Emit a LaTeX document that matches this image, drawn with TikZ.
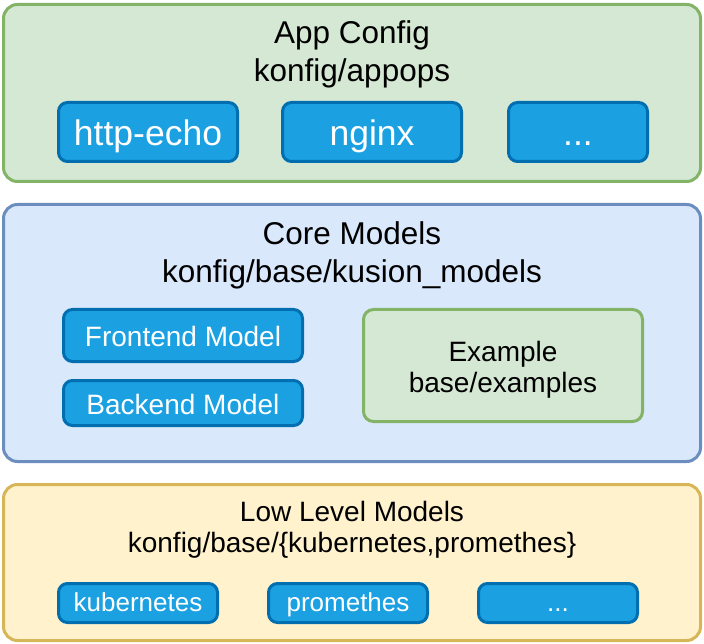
\documentclass[tikz,border=0pt]{standalone}
\usepackage{fontspec}
\setmainfont{Liberation Sans}
\definecolor{appfill}{HTML}{D5E8D4}
\definecolor{appline}{HTML}{82B366}
\definecolor{corefill}{HTML}{DAE8FC}
\definecolor{coreline}{HTML}{6C8EBF}
\definecolor{lowfill}{HTML}{FFF2CC}
\definecolor{lowline}{HTML}{D6B656}
\definecolor{itemfill}{HTML}{1BA1E2}
\definecolor{itemline}{HTML}{006EAF}

\begin{document}
\begin{tikzpicture}[x=1pt, y=-1pt,
  layer/.style={draw, line width=3pt, rounded corners=14pt, inner sep=0pt, minimum width=697pt},
  title/.style={align=center, inner sep=0pt},
  item/.style={draw=itemline, fill=itemfill, line width=3pt, rounded corners=9pt, inner sep=0pt, text=white, text depth=0pt},
  topitem/.style={item, font=\fontsize{35.5}{42}\selectfont, minimum width=179pt, minimum height=59pt, text height=27pt},
  model/.style={item, font=\fontsize{28}{33}\selectfont, minimum width=239pt, text height=22pt},
  lowitem/.style={item, font=\fontsize{26}{31}\selectfont, minimum width=159pt, minimum height=39pt, text height=17.5pt}]

\useasboundingbox (0,0) rectangle (704,644);

\node[layer, draw=appline, fill=appfill, minimum height=177pt] (app) at (352,93) {};
\node[layer, draw=coreline, fill=corefill, minimum height=257pt] (core) at (352,333) {};
\node[layer, draw=lowline, fill=lowfill, minimum height=156pt] (low) at (352,562.5) {};

% app config
\node[title, font=\fontsize{31.5}{37.5}\selectfont] (apptitle) at (352,54.5) {App Config\\konfig/appops};
\node[topitem] (echo) at (148,132) {http-echo};
\node[topitem] (nginx) at (372,132) {nginx};
\node[topitem, minimum width=139pt] (appmore) at (578,132) {...};

% core models
\node[title, font=\fontsize{31.5}{38}\selectfont] (coretitle) at (352,255) {Core Models\\konfig/base/kusion\_models};
\node[model, minimum height=52pt] (frontend) at (183,335.5) {Frontend Model};
\node[model, minimum height=45pt] (backend) at (183,403) {Backend Model};
\node[draw=appline, fill=appfill, line width=3pt, rounded corners=10pt, minimum width=279pt, minimum height=112pt] (example) at (503,365.5) {};
\node[title, font=\fontsize{28}{31.5}\selectfont] (extext) at ([yshift=-4.5pt]example.center) {Example\\base/examples};

% low level models
\node[title, font=\fontsize{28}{31.5}\selectfont] (lowtitle) at (352,530) {Low Level Models\\konfig/base/\{kubernetes,promethes\}};
\node[lowitem] (kube) at (138,603) {kubernetes};
\node[lowitem] (prom) at (348,603) {promethes};
\node[lowitem] (lowmore) at (558,603) {...};

\end{tikzpicture}
\end{document}
